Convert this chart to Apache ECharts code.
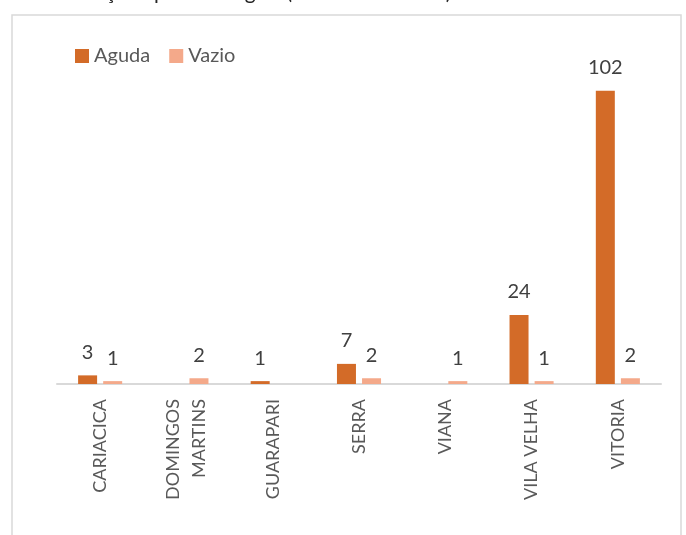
<!DOCTYPE html>
<html>
<head>
<meta charset="utf-8">
<script src="https://cdn.jsdelivr.net/npm/echarts@6/dist/echarts.min.js"></script>
<style>
html,body{margin:0;padding:0;background:#fff;}
#chart{width:686px;height:535px;}
</style>
</head>
<body>
<div id="chart"></div>
<script>
var titleText = 'Classificação epidemiológica (CHIKUNGUNYA)';
var categories = ['CARIACICA', 'DOMINGOS\nMARTINS', 'GUARAPARI', 'SERRA', 'VIANA', 'VILA VELHA', 'VITORIA'];
var seriesNames = ['Aguda', 'Vazio'];
var aguda = [3, null, 1, 7, null, 24, 102];
var vazio = [1, 2, null, 2, 1, 1, 2];

var FONT = 'Lato, "Open Sans", sans-serif';
var chart = echarts.init(document.getElementById('chart'), null, {renderer: 'canvas'});
var labelCfg = {
  show: true, position: 'top', distance: 13,
  fontFamily: FONT, fontSize: 20, color: '#404040'
};
chart.setOption({
  animation: false,
  backgroundColor: '#ffffff',
  textStyle: {fontFamily: FONT},
  graphic: [
    {type: 'rect', z: -10, shape: {x: 12, y: 15, width: 669, height: 540},
     style: {fill: '#ffffff', stroke: '#d9d9d9', lineWidth: 1.5}},
    {type: 'text', left: 20, top: -18,
     style: {text: titleText, fontFamily: FONT, fontSize: 21, fill: '#262626'}}
  ],
  legend: {
    left: 70, top: 41,
    itemWidth: 14, itemHeight: 14, itemGap: 19,
    icon: 'rect',
    textStyle: {fontFamily: FONT, fontSize: 20, color: '#595959'},
    data: seriesNames
  },
  grid: {left: 57, right: 25, top: 39, height: 345, containLabel: false},
  xAxis: {
    type: 'category',
    data: categories,
    axisLine: {lineStyle: {color: '#d9d9d9', width: 2}},
    axisTick: {show: false},
    axisLabel: {
      rotate: 90, margin: 15, interval: 0,
      fontFamily: FONT, fontSize: 18, color: '#595959', lineHeight: 26
    }
  },
  yAxis: {
    type: 'value', min: 0, max: 120,
    show: false, splitLine: {show: false}
  },
  series: [
    {name: seriesNames[0], type: 'bar', data: aguda, barWidth: 19, barGap: '32%',
     itemStyle: {color: '#D36B28'}, label: labelCfg},
    {name: seriesNames[1], type: 'bar', data: vazio, barWidth: 19,
     itemStyle: {color: '#F4A98A'}, label: labelCfg}
  ]
});
</script>
</body>
</html>
